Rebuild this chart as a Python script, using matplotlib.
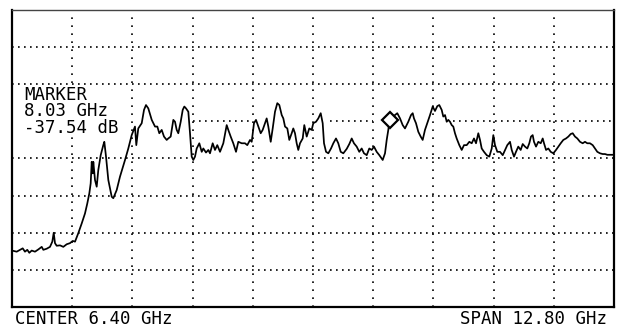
import matplotlib
matplotlib.use("Agg")
import matplotlib.pyplot as plt

# ---- instrument settings / annotations ----
center_ghz = 6.40
span_ghz = 12.80
ref_level_db = -8.0
db_per_div = 10.0
n_xdiv = 10
n_ydiv = 8
marker_ghz = 8.03
marker_db = -37.54

freq_ghz = [
    0.000, 0.100, 0.170, 0.228, 0.276, 0.325, 0.368, 0.419, 0.489, 0.559,
    0.632, 0.666, 0.738, 0.808, 0.857, 0.887, 0.914, 0.950, 1.021, 1.091,
    1.163, 1.233, 1.291, 1.340, 1.410, 1.482, 1.552, 1.601, 1.644, 1.673,
    1.695, 1.716, 1.729, 1.765, 1.801, 1.835, 1.886, 1.941, 1.963, 1.999,
    2.048, 2.120, 2.154, 2.226, 2.296, 2.403, 2.473, 2.545, 2.615, 2.643,
    2.685, 2.758, 2.807, 2.849, 2.898, 2.971, 3.041, 3.090, 3.132, 3.183,
    3.232, 3.289, 3.323, 3.374, 3.430, 3.466, 3.502, 3.536, 3.587, 3.630,
    3.664, 3.700, 3.749, 3.785, 3.821, 3.855, 3.891, 3.927, 3.983, 4.034,
    4.068, 4.125, 4.174, 4.210, 4.267, 4.316, 4.365, 4.423, 4.493, 4.565,
    4.599, 4.650, 4.705, 4.763, 4.812, 4.884, 4.954, 5.003, 5.061, 5.097,
    5.145, 5.188, 5.237, 5.288, 5.330, 5.379, 5.415, 5.450, 5.501, 5.543,
    5.592, 5.641, 5.684, 5.735, 5.769, 5.805, 5.854, 5.896, 5.947, 5.981,
    6.017, 6.053, 6.087, 6.124, 6.181, 6.215, 6.266, 6.321, 6.372, 6.406,
    6.464, 6.513, 6.564, 6.606, 6.634, 6.677, 6.726, 6.783, 6.832, 6.889,
    6.938, 6.989, 7.045, 7.117, 7.172, 7.223, 7.271, 7.329, 7.384, 7.435,
    7.484, 7.542, 7.597, 7.648, 7.697, 7.754, 7.810, 7.882, 7.931, 7.967,
    8.001, 8.030, 8.094, 8.143, 8.192, 8.250, 8.307, 8.356, 8.426, 8.484,
    8.520, 8.547, 8.590, 8.639, 8.690, 8.732, 8.781, 8.830, 8.888, 8.945,
    8.994, 9.043, 9.085, 9.136, 9.170, 9.207, 9.243, 9.277, 9.313, 9.349,
    9.383, 9.419, 9.455, 9.511, 9.562, 9.611, 9.668, 9.724, 9.775, 9.823,
    9.866, 9.915, 9.951, 9.987, 10.036, 10.093, 10.149, 10.200, 10.234, 10.270,
    10.319, 10.376, 10.434, 10.483, 10.531, 10.589, 10.625, 10.674, 10.716, 10.765,
    10.816, 10.859, 10.908, 10.957, 10.999, 11.035, 11.071, 11.099, 11.142, 11.191,
    11.242, 11.284, 11.312, 11.355, 11.404, 11.454, 11.510, 11.567, 11.616, 11.667,
    11.722, 11.780, 11.829, 11.880, 11.922, 11.971, 12.020, 12.077, 12.134, 12.183,
    12.232, 12.289, 12.347, 12.396, 12.445, 12.502, 12.560, 12.609, 12.658, 12.715,
    12.800,
]
level_db = [
    -72.8, -73.1, -72.6, -72.2, -73.1, -72.6, -73.4, -72.8, -73.1, -72.5,
    -71.8, -72.6, -72.3, -71.8, -70.4, -68.0, -70.8, -71.5, -71.4, -71.8,
    -71.1, -70.8, -70.2, -70.4, -68.1, -65.5, -62.8, -60.1, -57.4, -54.7,
    -48.9, -52.0, -48.9, -53.8, -55.6, -51.1, -47.1, -44.4, -43.5, -47.5,
    -53.8, -58.3, -58.7, -56.5, -52.9, -48.4, -45.3, -41.7, -39.4, -44.4,
    -39.9, -38.5, -34.9, -33.6, -34.5, -37.6, -39.4, -39.4, -41.2, -40.3,
    -42.1, -43.0, -42.6, -42.1, -37.6, -38.1, -40.3, -41.2, -38.1, -34.9,
    -34.0, -34.5, -35.4, -41.2, -47.5, -48.4, -47.5, -45.3, -43.9, -46.2,
    -45.3, -46.4, -45.7, -46.6, -43.9, -45.7, -44.4, -46.2, -43.9, -39.0,
    -40.3, -42.1, -43.9, -46.2, -43.5, -43.9, -43.9, -44.4, -43.0, -43.5,
    -38.5, -37.6, -39.4, -41.2, -40.3, -38.5, -37.2, -39.4, -43.5, -39.9,
    -35.4, -33.1, -33.6, -36.3, -37.2, -39.4, -39.9, -43.0, -41.2, -39.9,
    -41.2, -43.9, -45.7, -43.9, -42.6, -39.0, -42.1, -39.9, -40.3, -38.5,
    -38.1, -37.2, -35.8, -38.5, -43.9, -46.2, -46.6, -45.3, -43.9, -42.6,
    -43.9, -46.2, -46.6, -45.4, -44.1, -42.6, -43.9, -44.8, -46.2, -45.3,
    -46.6, -47.1, -45.3, -45.7, -44.8, -46.2, -47.1, -48.4, -46.6, -43.0,
    -40.3, -37.5, -36.7, -36.3, -35.8, -37.2, -39.0, -39.9, -38.1, -36.3,
    -35.8, -37.2, -38.5, -40.8, -42.1, -43.0, -40.3, -38.5, -36.3, -34.0,
    -35.2, -33.9, -33.6, -34.9, -36.7, -36.3, -38.1, -37.6, -38.1, -39.0,
    -39.4, -41.2, -42.6, -44.4, -45.7, -44.4, -44.4, -43.5, -43.9, -42.6,
    -43.9, -41.2, -43.0, -45.3, -46.2, -47.1, -47.5, -45.3, -41.7, -44.4,
    -46.2, -46.2, -47.1, -45.7, -44.4, -43.5, -45.7, -47.5, -46.2, -44.8,
    -45.7, -44.1, -44.8, -45.3, -43.9, -42.1, -41.7, -43.5, -44.8, -43.5,
    -43.9, -42.6, -43.9, -45.7, -45.3, -46.2, -46.6, -45.7, -44.8, -43.9,
    -43.0, -42.6, -42.1, -41.4, -41.2, -42.1, -42.6, -43.5, -43.9, -43.5,
    -43.9, -43.9, -44.4, -45.3, -46.2, -46.6, -46.8, -46.8, -47.0, -47.0,
    -47.0,
]

# graticule lines that the plotter printed only in parts (GHz ranges)
partial_hlines = {
    -38.0: [(3.85, 5.06), (6.76, 7.68), (9.38, 12.8)],
    -48.0: [(0.0, 3.78), (5.23, 7.61), (8.29, 12.8)],
}

W, H = 619, 327
fig = plt.figure(figsize=(W / 100, H / 100), dpi=100)
fig.patch.set_facecolor("white")
ax = fig.add_axes([12 / W, 20 / H, 602 / W, 297 / H])

f0 = center_ghz - span_ghz / 2
f1 = center_ghz + span_ghz / 2
y_bot = ref_level_db - n_ydiv * db_per_div
ax.set_xlim(f0, f1)
ax.set_ylim(y_bot, ref_level_db)
ax.set_xticks([])
ax.set_yticks([])

dot_h = dict(color="black", lw=1.2, linestyle=(0, (1, 2.6)), solid_capstyle="butt", zorder=1)
dot_v = dict(color="black", lw=1.2, linestyle=(0, (1, 3.8)), solid_capstyle="butt", zorder=1)

# vertical graticule
for k in range(1, n_xdiv):
    xv = f0 + k * span_ghz / n_xdiv
    ax.plot([xv, xv], [y_bot, ref_level_db], **dot_v)

# horizontal graticule
for k in range(1, n_ydiv):
    yv = ref_level_db - k * db_per_div
    segs = partial_hlines.get(yv, [(f0, f1)])
    for a, b in segs:
        ax.plot([a, b], [yv, yv], **dot_h)

# trace
ax.plot(freq_ghz, level_db, color="black", lw=1.25, zorder=3, solid_joinstyle="round")

# marker
ax.plot([marker_ghz], [marker_db], marker="D", ms=8, mfc="white", mec="black",
        mew=1.6, zorder=4, linestyle="none")

for side, sp in ax.spines.items():
    sp.set_color("black")
    sp.set_linewidth(1.6)
ax.spines["top"].set_linewidth(1.0)
ax.spines["top"].set_color("#444444")

mono = "DejaVu Sans Mono"
fs = 12.5
# marker readout (one multi-line block), drawn under the trace
readout = "MARKER\n" + f"{marker_ghz:.2f} GHz\n" + f"{marker_db:.2f} dB"
ax.text(24 / W, 1 - 133 / H, readout, transform=fig.transFigure, family=mono,
        fontsize=fs, va="baseline", ha="left", color="black", zorder=2,
        linespacing=0.9, bbox=dict(facecolor="white", edgecolor="none", pad=0.2))

fig.text(15 / W, 1 - 324 / H, f"CENTER {center_ghz:.2f} GHz", family=mono, fontsize=fs,
         va="baseline", ha="left", color="black")
fig.text(607 / W, 1 - 324 / H, f"SPAN {span_ghz:.2f} GHz", family=mono, fontsize=fs,
         va="baseline", ha="right", color="black")

fig.savefig("out.png", dpi=100, facecolor="white")
